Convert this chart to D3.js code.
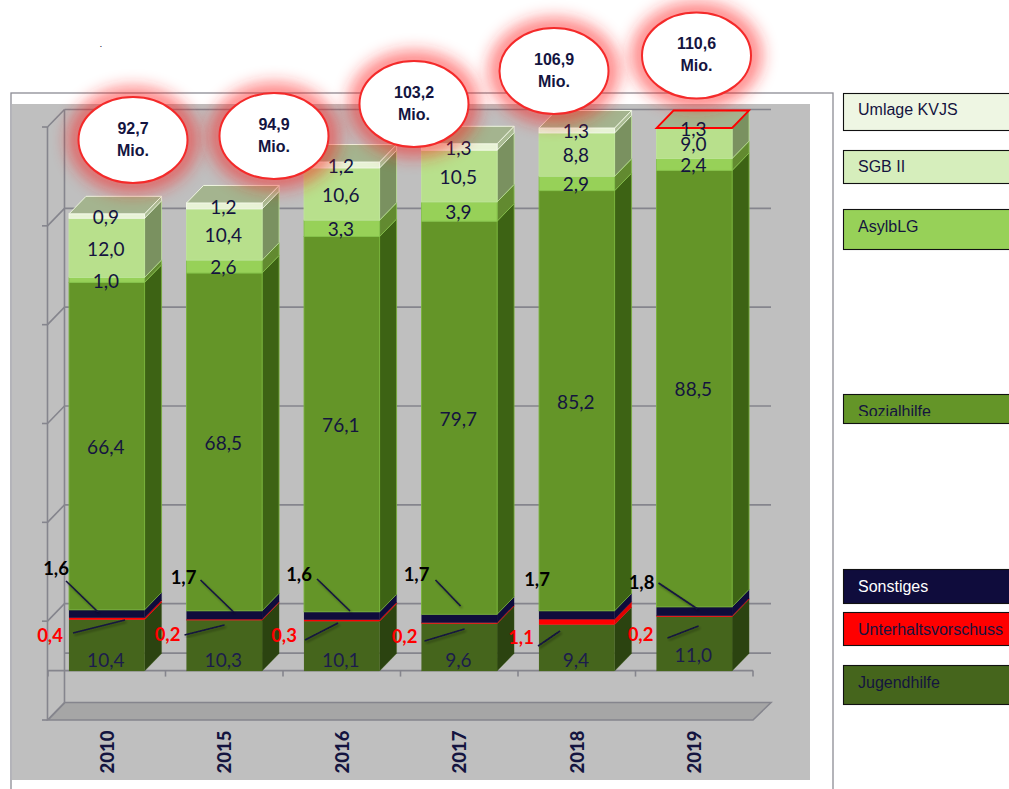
<!DOCTYPE html>
<html><head><meta charset="utf-8">
<script src="https://cdn.jsdelivr.net/npm/d3@7"></script>
<style>html,body{margin:0;padding:0;background:#fff;overflow:hidden}svg{display:block}</style>
</head><body><svg id="c" width="1009" height="789"></svg>
<script>
const years=["2010","2015","2016","2017","2018","2019"];
const jugendhilfe=[10.4,10.3,10.1,9.6,9.4,11.0];
const unterhaltsvorschuss=[0.4,0.2,0.3,0.2,1.1,0.2];
const sonstiges=[1.6,1.7,1.6,1.7,1.7,1.8];
const sozialhilfe=[66.4,68.5,76.1,79.7,85.2,88.5];
const asylblg=[1.0,2.6,3.3,3.9,2.9,2.4];
const sgb2=[12.0,10.4,10.6,10.5,8.8,9.0];
const umlage=[0.9,1.2,1.2,1.3,1.3,1.3];
const totals=[92.7,94.9,103.2,106.9,110.6];
const gridTicks=[-10,10,30,50,70,90,110];
const seriesNames=["Jugendhilfe","Unterhaltsvorschuss","Sonstiges","Sozialhilfe","AsylbLG","SGB II","Umlage KVJS"];
const seriesValues=[jugendhilfe,unterhaltsvorschuss,sonstiges,sozialhilfe,asylblg,sgb2,umlage];
const frontColors=["#45651c","#ff0000","#0f0c3c","#649528","#97d158","#b8e08c","#e8f3d6"];
const sideColors=["#2b4310","#e00000","#0f0c3c","#3d6314","#628a30","#7a9160","#a9bb93"];
const edgeColors=["#45651c","#e00000","#0f0c3c","#78b23a","#86c24c","#bfe59a","#f4f9ea"];

const NAVY="#14143f",FONT="Lato, Carlito, sans-serif",ARIAL="'Liberation Sans', Arial, sans-serif",AXIS="#85858d";
const svg=d3.select("#c");
const defs=svg.append("defs");
const glow=defs.append("filter").attr("id","glow").attr("x","-50%").attr("y","-50%").attr("width","200%").attr("height","200%");
glow.append("feGaussianBlur").attr("stdDeviation",8);
const shadow=defs.append("filter").attr("id","ls").attr("x","-30%").attr("y","-30%").attr("width","160%").attr("height","160%");
shadow.append("feDropShadow").attr("dx",1.5).attr("dy",2).attr("stdDeviation",1.2).attr("flood-color","#000").attr("flood-opacity",.35);

// stray scraps of the cropped title
[222,388].forEach(x=>svg.append("text").attr("x",x).attr("y",-3).attr("font-family",ARIAL).attr("font-size",14).attr("fill","#333").attr("text-anchor","middle").text("y"));
svg.append("text").attr("x",101).attr("y",47).attr("font-family",ARIAL).attr("font-size",10).attr("fill",NAVY).attr("text-rendering","geometricPrecision").attr("text-anchor","middle").text(".");

// panels
svg.append("rect").attr("x",11).attr("y",93).attr("width",822).attr("height",760).attr("fill","#fff").attr("stroke","#8c8c94").attr("stroke-width",1.3);
svg.append("rect").attr("x",12).attr("y",104).attr("width",798).attr("height",676).attr("fill","#bfbfbf");

const DX=17,DY=17.5;
const x=d3.scaleBand().domain(years).range([48,753]);
const barL=d=>x(d)+x.bandwidth()*0.179,barW=x.bandwidth()*0.643;
const y=d3.scaleLinear().domain([0,110.1]).range([671,128]).clamp(true);
const gy=d3.scaleLinear().domain([-10,110]).range([720,127]);
const axisLine=(g,a,b,c,d)=>g.append("line").attr("x1",a).attr("y1",b).attr("x2",c).attr("y2",d).attr("stroke",AXIS).attr("stroke-width",1.6);

const wall=svg.append("g");
// floor
wall.append("path").attr("d",d3.line()([[x.range()[0],gy(-10)],[x.range()[1],gy(-10)],[x.range()[1]+18,gy(-10)-DY],[x.range()[0]+DX,gy(-10)-DY]])+"Z")
  .attr("fill","#a6a6a6").attr("stroke",AXIS).attr("stroke-width",1.6);
// back-wall gridlines with diagonals and ticks
gridTicks.forEach(t=>{
  const v=gy(t);
  axisLine(wall,47.5,v,47.5+DX,v-DY);
  axisLine(wall,42,v,47.5,v);
  if(t>-10) axisLine(wall,47.5+DX,v-DY,x.range()[1]+18,v-DY);
});
axisLine(wall,47.5+DX,gy(0)-DY,x.range()[1]+18,gy(0)-DY);
axisLine(wall,47.5,gy(110),47.5,gy(-10));
axisLine(wall,47.5+DX,gy(110)-DY,47.5+DX,gy(-10)-DY);
// category axis
const ax=svg.append("g");
axisLine(ax,47.5,gy(0),x.range()[1],gy(0));
years.concat("end").forEach((d,i)=>{const px=x.range()[0]+i*x.bandwidth();axisLine(ax,px,gy(0),px,gy(0)+6);});

// stacked 3-D bars
const bars=svg.append("g");
years.forEach((yr,c)=>{
  let cum=0;const L=barL(yr),R=L+barW;
  const tops=[];
  seriesValues.forEach((vals,s)=>{
    const y0=y(cum),y1=y(cum+vals[c]);cum+=vals[c];tops.push([y0,y1]);
    bars.append("path").attr("d",d3.line()([[R,y0],[R+DX,y0-DY],[R+DX,y1-DY],[R,y1]])+"Z")
      .attr("fill",sideColors[s]).attr("stroke",edgeColors[s]).attr("stroke-width",s>2?.8:.3);
    bars.append("rect").attr("x",L).attr("y",y1).attr("width",barW).attr("height",Math.max(0,y0-y1))
      .attr("fill",frontColors[s]).attr("stroke",edgeColors[s]).attr("stroke-width",s>2?.9:.2);
  });
  const yt=y(cum),clipped=cum>111;
  bars.append("path").attr("d",d3.line()([[L,yt],[R,yt],[R+DX,yt-DY],[L+DX,yt-DY]])+"Z")
    .attr("fill","#a4b48f").attr("stroke",clipped?"#ff0000":"#f0f7e2").attr("stroke-width",clipped?1.8:1);
  // inner value labels
  seriesValues.forEach((vals,s)=>{
    if(s===1||s===2) return;
    const cy=s===0?671-(c===5?16:11):(tops[s][0]+tops[s][1])/2+1;
    svg.append("text").attr("class","lab").attr("x",L+barW/2-1).attr("y",cy).attr("dy",".36em")
      .attr("text-anchor","middle").attr("font-family",FONT).attr("font-size",19)
      .attr("fill",s===0?"#1c1c4c":NAVY).text(vals[c].toFixed(1).replace(".",","));
  });
});

// outside labels and leaders, offsets from each bar's left edge and the baseline
const sonstLabelOffset=[[-13,-103],[-3,-94],[-5,-97],[-5,-97],[-2,-92],[-15,-89]];
const uvLabelOffset=[[-19,-36],[-19,-37],[-20,-36],[-17,-35],[-18,-34],[-16,-37]];
const sonstLeader=[[-3,-90,29,-59],[14,-91,47,-59],[13,-92,46,-60],[14,-91,39,-65],null,[2,-88,41,-62]];
const uvLeader=[[4,-38,56,-51],[-2,-36,38,-46],[1,-31,34,-48],[3,-30,43,-42],[-1,-25,21,-40],[11,-33,42,-45]];
years.forEach((yr,c)=>{
  const L=barL(yr),b=y(0);
  [[sonstLeader[c]],[uvLeader[c]]].forEach(([o])=>{ if(!o) return;
    svg.append("line").attr("x1",L+o[0]).attr("y1",b+o[1]).attr("x2",L+o[2]).attr("y2",b+o[3])
      .attr("stroke",NAVY).attr("stroke-width",1.6).attr("filter","url(#ls)");
  });
  svg.append("text").attr("x",L+sonstLabelOffset[c][0]).attr("y",b+sonstLabelOffset[c][1]).attr("dy",".36em").attr("text-anchor","middle")
    .attr("font-family",FONT).attr("font-size",18.5).attr("font-weight",700).attr("fill","#000").text(sonstiges[c].toFixed(1).replace(".",","));
  svg.append("text").attr("x",L+uvLabelOffset[c][0]).attr("y",b+uvLabelOffset[c][1]).attr("dy",".36em").attr("text-anchor","middle")
    .attr("font-family",FONT).attr("font-size",18.5).attr("font-weight",700).attr("fill","#ff0000").text(unterhaltsvorschuss[c].toFixed(1).replace(".",","));
  const xc=L+barW/2+0.5,yc=752;
  svg.append("text").attr("transform",`translate(${xc},${yc}) rotate(-90)`).attr("dy",".36em").attr("text-anchor","middle")
    .attr("font-family",FONT).attr("font-size",18.5).attr("font-weight",900).attr("fill",NAVY).text(yr);
});

// total callouts
const calloutX=[133,274,414,554,696.5],calloutY=[140,136,104,71,55.5];
totals.forEach((t,i)=>{
  const g=svg.append("g").attr("transform",`translate(${calloutX[i]},${calloutY[i]})`);
  g.append("ellipse").attr("rx",66).attr("ry",54).attr("fill","#ff1a1a").attr("opacity",.5).attr("filter","url(#glow)");
  g.append("ellipse").attr("rx",54.5).attr("ry",43).attr("fill","#fff").attr("stroke","#f42a2a").attr("stroke-width",2);
  g.append("text").attr("y",-12).attr("dy",".36em").attr("text-anchor","middle").attr("font-family",ARIAL).attr("font-weight",700).attr("font-size",16).attr("fill",NAVY).text(t.toFixed(1).replace(".",","));
  g.append("text").attr("y",10).attr("dy",".36em").attr("text-anchor","middle").attr("font-family",ARIAL).attr("font-weight",700).attr("font-size",16).attr("fill",NAVY).text("Mio.");
});

// legend
const legendNames=["Umlage KVJS","SGB II","AsylbLG","Sozialhilfe","Sonstiges","Unterhaltsvorschuss","Jugendhilfe"];
const legendFill=["#eef6e3","#d6eebc","#97d158","#649528","#0f0c3c","#ff0000","#45651c"];
const legendText=[NAVY,NAVY,NAVY,NAVY,"#ffffff",NAVY,NAVY];
const legendTop=[93,150,209,394,569,612,665],legendBottom=[130,183,249,423,603,645,704],legendLabelY=[115,172,232,417,592,635,688];
defs.append("clipPath").attr("id","soz").append("rect").attr("x",843).attr("y",394).attr("width",166).attr("height",22);
legendNames.forEach((n,i)=>{
  svg.append("rect").attr("x",843.5).attr("y",legendTop[i]+.5).attr("width",200).attr("height",legendBottom[i]-legendTop[i])
    .attr("fill",legendFill[i]).attr("stroke","#111").attr("stroke-width",1.1);
  const t=svg.append("text").attr("x",858).attr("y",legendLabelY[i]).attr("font-family",ARIAL).attr("font-size",16).attr("fill",legendText[i]).text(n);
  if(n==="Sozialhilfe") t.attr("clip-path","url(#soz)");
});
</script></body></html>
